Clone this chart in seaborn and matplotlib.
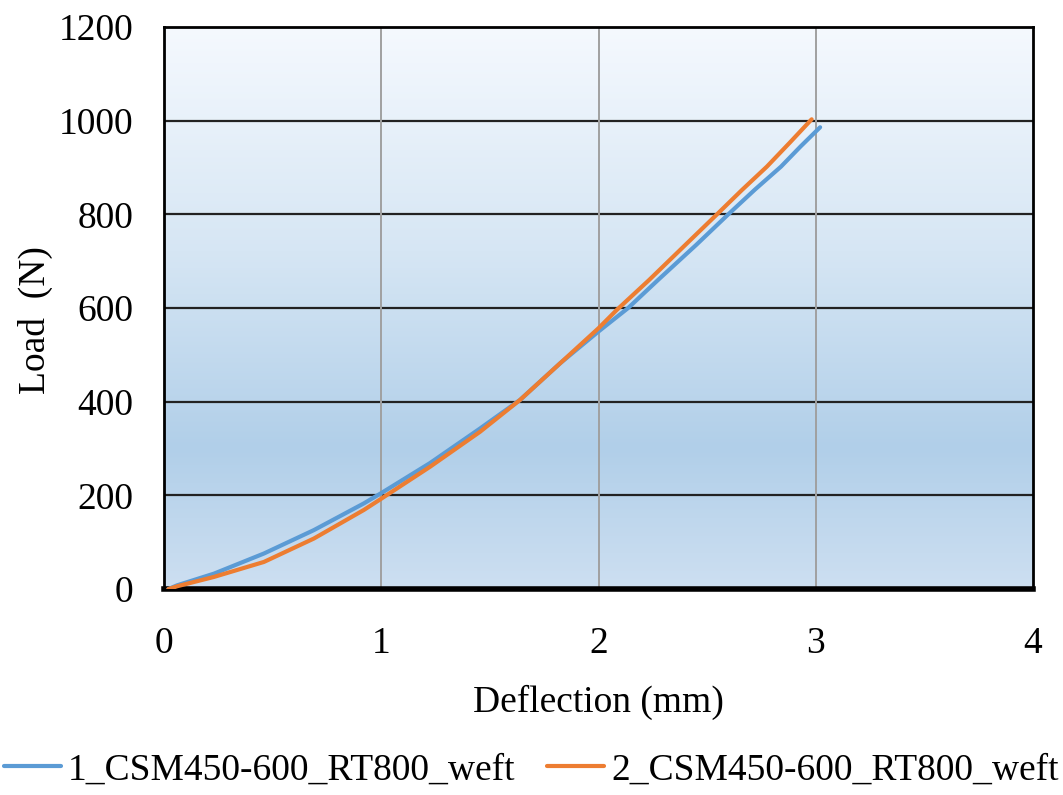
import numpy as np
import pandas as pd
import matplotlib
matplotlib.use('Agg')
import matplotlib.pyplot as plt
from matplotlib.colors import LinearSegmentedColormap
import seaborn as sns

# values
x_1 = [0.02, 0.06, 0.23, 0.46, 0.69, 0.92, 1.0, 1.224, 1.455, 1.639, 1.823, 2.0,
       2.136, 2.274, 2.45, 2.597, 2.72, 2.84, 2.93, 3.02]
load_1 = [0, 8, 33, 76, 126, 183, 205, 269, 343, 404, 482, 550,
          600, 660, 735, 800, 853, 902, 945, 986]
x_2 = [0.02, 0.06, 0.23, 0.46, 0.69, 0.92, 1.0, 1.224, 1.455, 1.639, 1.823, 2.0,
       2.084, 2.233, 2.4, 2.545, 2.66, 2.775, 2.88, 2.981]
load_2 = [0, 6, 26, 58, 108, 169, 193, 261, 336, 404, 482, 557,
          596, 660, 735, 800, 852, 902, 953, 1003]
names = ['1_CSM450-600_RT800_weft', '2_CSM450-600_RT800_weft']
x_ticks = [0, 1, 2, 3, 4]
y_ticks = [0, 200, 400, 600, 800, 1000, 1200]

df = pd.concat([
    pd.DataFrame({'Deflection': x_1, 'Load': load_1, 'sample': names[0]}),
    pd.DataFrame({'Deflection': x_2, 'Load': load_2, 'sample': names[1]}),
])

sns.set_theme(style='white')
plt.rcParams['font.family'] = ['Liberation Serif', 'DejaVu Serif']
for key in ['text.color', 'axes.labelcolor', 'xtick.color', 'ytick.color']:
    plt.rcParams[key] = 'black'

fig = plt.figure(figsize=(10.63, 7.95), dpi=100)
ax = fig.add_axes([0.1543, 0.259, 0.8175, 0.707])

# excel-style vertical gradient fill
cmap = LinearSegmentedColormap.from_list('bg', [
    (0.0, '#cddff1'),
    (0.25, '#b1cfe9'),
    (0.6, '#d6e6f4'),
    (1.0, '#f5f9fe'),
])
grad = np.linspace(0, 1, 256).reshape(-1, 1)
ax.imshow(grad, extent=[0, 4, 0, 1200], origin='lower', aspect='auto', cmap=cmap, zorder=0)

for yt in y_ticks[1:-1]:
    ax.axhline(yt, color='#222222', lw=1.6, zorder=1)
for xt in x_ticks[1:-1]:
    ax.axvline(xt, color='#a0a0a0', lw=1.4, zorder=1)

sns.lineplot(data=df, x='Deflection', y='Load', hue='sample', sort=False,
             palette=['#5b9bd5', '#ed7d31'], linewidth=3, ax=ax, zorder=3)

ax.set_xlim(0, 4)
ax.set_ylim(0, 1200)
ax.set_xticks(x_ticks)
ax.set_yticks(y_ticks)
ax.tick_params(labelsize=27, length=0, labelcolor='black')
ax.tick_params(axis='x', pad=27)
ax.tick_params(axis='y', pad=22)
ax.set_xlabel('Deflection (mm)', fontsize=27, labelpad=17, color='black')
ax.set_ylabel('')
fig.text(35 / 1063, 1 - 320 / 795, 'Load  (N)', rotation=90, fontsize=27,
         ha='center', va='center', color='black')

for side in ['top', 'right', 'left']:
    ax.spines[side].set_color('black')
    ax.spines[side].set_linewidth(2)
ax.spines['bottom'].set_color('black')
ax.spines['bottom'].set_linewidth(4)

ax.legend_.remove()
handles, labels = ax.get_legend_handles_labels()
fig.legend(handles, labels, loc='center', bbox_to_anchor=(0.5, 0.031), ncol=2,
           frameon=False, fontsize=27, handlelength=1.5, handletextpad=0.2,
           columnspacing=0.85, borderpad=0, labelcolor='black')

fig.savefig('out.png', dpi=100)
